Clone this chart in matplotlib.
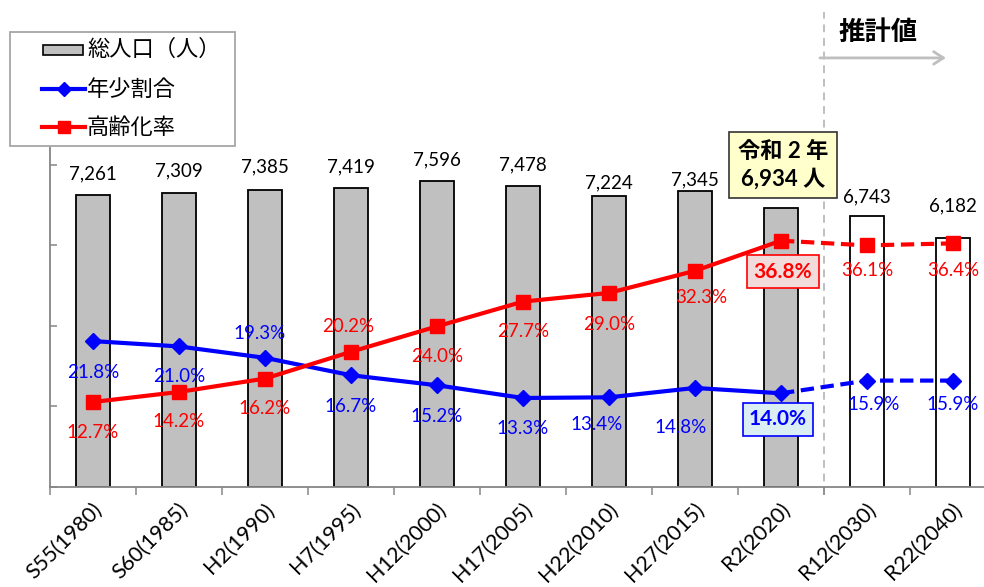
import numpy as np
import matplotlib
matplotlib.use("Agg")
from matplotlib import pyplot as plt
from matplotlib.patches import Rectangle
from matplotlib.lines import Line2D
import matplotlib.transforms as mtransforms

plt.rcParams['font.family'] = ['Lato', 'Noto Sans CJK JP', 'DejaVu Sans']

# ------------------------------------------------------------------ data
years = ["S55(1980)", "S60(1985)", "H2(1990)", "H7(1995)", "H12(2000)",
         "H17(2005)", "H22(2010)", "H27(2015)", "R2(2020)", "R12(2030)",
         "R22(2040)"]
population = [7261, 7309, 7385, 7419, 7596, 7478, 7224, 7345, 6934, 6743, 6182]
youth_ratio = [21.8, 21.0, 19.3, 16.7, 15.2, 13.3, 13.4, 14.8, 14.0, 15.9, 15.9]
aging_ratio = [12.7, 14.2, 16.2, 20.2, 24.0, 27.7, 29.0, 32.3, 36.8, 36.1, 36.4]
series_names = ["総人口（人）", "年少割合", "高齢化率"]
n_actual = 9   # R2(2020) is the last observed point, the rest are projections

# label offsets in pixels (dx, dy downward)
pop_label_dy = [21, 22, 23, 22, 21, 21, 13, 11, None, 19, 32]
aging_off = [(0, 31), (0, 30), (0, 30), (-3, -25), (0, 30), (0, 30), (0, 32),
             (6, 27), (2, 31), (0, 25), (0, 27)]
youth_off = [(0, 31), (0, 30), (-5, -24), (0, 31), (0, 31), (0, 31), (-12, 27),
             (-14, 40), (-3, 26), (7, 24), (0, 24)]

RED, BLUE, GREY = "#ff0000", "#0000ff", "#868686"
JP = ['Noto Sans CJK JP']
W, H = 984, 587

fig = plt.figure(figsize=(W / 100, H / 100), dpi=100)
ax = fig.add_axes([50 / W, 100 / H, 946 / W, 340 / H])
x = np.arange(len(years))

# --------------------------------------------------------------- bars
bar_colors = ["#c0c0c0"] * n_actual + ["white"] * (len(years) - n_actual)
ax.bar(x, population, width=0.39, color=bar_colors, edgecolor="black",
       linewidth=1.3, zorder=2)
ax.set_xlim(-0.5, len(years) - 0.5)
ax.set_ylim(0, 8447)
ax.set_yticks([0, 2000, 4000, 6000, 8000])
ax.tick_params(axis="y", direction="in", length=5, width=1.1, color=GREY,
               labelleft=False)
ax.set_xticks(np.arange(-0.5, len(years), 1))
ax.set_xticklabels([])
ax.tick_params(axis="x", which="major", direction="out", length=6, width=1.1,
               color=GREY)
ax.set_xticks(x, minor=True)
ax.set_xticklabels(years, minor=True, rotation=45, ha="right", va="center",
                   rotation_mode="anchor", fontsize=15.5)
ax.tick_params(axis="x", which="minor", length=0, pad=14)
shift = mtransforms.ScaledTranslation(6 / 100, 0, fig.dpi_scale_trans)
for lab in ax.get_xticklabels(minor=True):
    lab.set_transform(lab.get_transform() + shift)
for s in ("top", "right"):
    ax.spines[s].set_visible(False)
for s in ("left", "bottom"):
    ax.spines[s].set_color(GREY)
    ax.spines[s].set_linewidth(1.3)

for i, (v, dy) in enumerate(zip(population, pop_label_dy)):
    if dy is None:
        continue
    ax.annotate(f"{v:,}", (i, v), xytext=(0, dy), textcoords="offset pixels",
                ha="center", va="center", fontsize=13.5, color="black")

# yellow call-out for 2020
ax.annotate(f"令和 2 年\n{population[8]:,} 人", (8, population[8]),
            xytext=(2, 43), textcoords="offset pixels", ha="center",
            va="center", fontsize=16, fontweight="bold", linespacing=1.35,
            family=['Lato', 'Noto Sans CJK JP'],
            bbox=dict(boxstyle="square,pad=0.4", fc="#ffffcc", ec="#333333",
                      lw=1.2), zorder=5)

# --------------------------------------------------------------- lines
ax2 = ax.twinx()
ax2.set_ylim(0, 50.8)
ax2.set_axis_off()
dash = (0, (3.2, 1.6))
for vals, col, mk, ms in ((youth_ratio, BLUE, "D", 8.5),
                          (aging_ratio, RED, "s", 10.5)):
    ax2.plot(x[:n_actual], vals[:n_actual], color=col, lw=3, marker=mk,
             ms=ms, zorder=3)
    ax2.plot(x[n_actual - 1:], vals[n_actual - 1:], color=col, lw=3,
             ls=dash, marker=mk, ms=ms, markevery=slice(1, None), zorder=3)

for vals, offs, col, box in ((aging_ratio, aging_off, RED, ("#f2dcdb", RED)),
                             (youth_ratio, youth_off, BLUE, ("#dbeef4", BLUE))):
    for i, (v, (dx, dy)) in enumerate(zip(vals, offs)):
        if i == n_actual - 1:
            ax2.annotate(f"{v:.1f}%", (i, v), xytext=(dx, -dy),
                         textcoords="offset pixels", ha="center", va="center",
                         fontsize=15, fontweight="bold", color=col,
                         bbox=dict(boxstyle="square,pad=0.3", fc=box[0],
                                   ec=box[1], lw=1.2), zorder=5)
        else:
            ax2.annotate(f"{v:.1f}%", (i, v), xytext=(dx, -dy),
                         textcoords="offset pixels", ha="center", va="center",
                         fontsize=13.5, color=col)

# ------------------------------------------------ projection marker
blend = mtransforms.blended_transform_factory(ax.transData, ax.transAxes)
ax.plot([n_actual - 0.5] * 2, [-0.024, 1.397], transform=blend,
        color="#bfbfbf", lw=1.4, ls=(0, (4, 3)), clip_on=False, zorder=1)
ax.annotate("", xy=(9.95, 1.262), xytext=(8.42, 1.262), xycoords=blend,
            textcoords=blend,
            arrowprops=dict(arrowstyle="->,head_length=0.7,head_width=0.45",
                            color="#bfbfbf", lw=2))
ax.text(9.13, 1.338, "推計値", transform=blend, ha="center", va="center",
        fontsize=19, fontweight="bold", family=JP)

# --------------------------------------------- legend, drawn by hand
def fx(px):
    return px / W

def fy(py):
    return 1 - py / H

tf = fig.transFigure
fig.add_artist(Rectangle((fx(10), fy(146)), fx(225), 114 / H, transform=tf,
                         fc="white", ec="#a6a6a6", lw=1.3))
rows = [49, 89, 127]
fig.add_artist(Rectangle((fx(43), fy(55)), fx(40), 10 / H, transform=tf,
                         fc="#c0c0c0", ec="black", lw=1.2))
for yy, col, mk, ms in ((rows[1], BLUE, "D", 7), (rows[2], RED, "s", 9)):
    fig.add_artist(Line2D([fx(42), fx(85)], [fy(yy)] * 2, transform=tf,
                          color=col, lw=3))
    fig.add_artist(Line2D([fx(63.5)], [fy(yy)], transform=tf, color=col,
                          marker=mk, ms=ms, ls="none"))
for yy, name in zip(rows, series_names):
    fig.text(fx(87), fy(yy), name, ha="left", va="center", fontsize=16,
             family=JP)

fig.savefig("out.png", dpi=100)
